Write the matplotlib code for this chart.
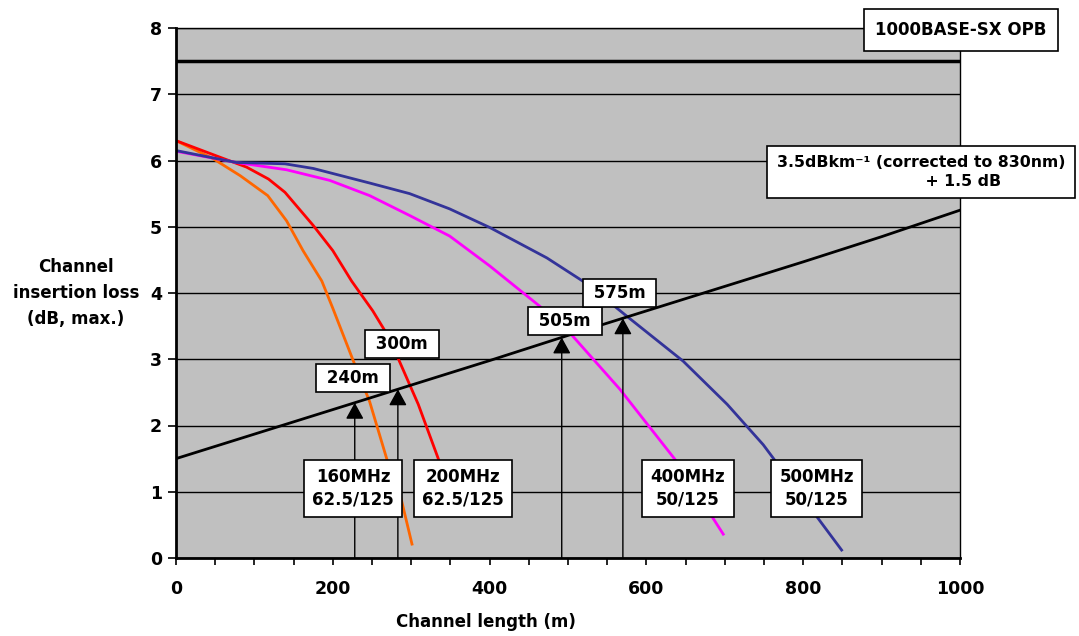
import numpy as np
import matplotlib
matplotlib.use('Agg')
import matplotlib.pyplot as plt
from matplotlib.ticker import MultipleLocator

plt.rcParams['font.family'] = ['DejaVu Sans']
plt.rcParams['font.weight'] = 'bold'

# straight-line loss budget: 3.5 dB/km + 1.5 dB
len_loss = [0, 100, 200, 300, 400, 500, 600, 700, 800, 900, 1000]
loss_line = [1.5, 1.87, 2.24, 2.61, 2.98, 3.36, 3.73, 4.1, 4.47, 4.85, 5.25]
opb = 7.5

# allowed channel loss curves
x_160 = [0, 47, 82, 117, 141, 162, 186, 200, 228, 247, 270, 286, 301]
y_160 = [6.30, 6.03, 5.77, 5.47, 5.09, 4.64, 4.18, 3.77, 2.92, 2.36, 1.45, 0.95, 0.21]
x_200 = [0, 56, 90, 118, 139, 175, 200, 224, 251, 268, 282, 309, 337, 345]
y_200 = [6.30, 6.05, 5.90, 5.72, 5.52, 5.02, 4.64, 4.18, 3.73, 3.40, 3.05, 2.32, 1.42, 1.00]
x_400 = [0, 77, 141, 196, 247, 298, 349, 400, 464, 506, 566, 639, 698]
y_400 = [6.14, 5.97, 5.86, 5.70, 5.47, 5.17, 4.86, 4.41, 3.80, 3.35, 2.55, 1.45, 0.36]
x_500 = [0, 77, 139, 175, 247, 298, 349, 400, 473, 524, 575, 647, 703, 749, 800, 849]
y_500 = [6.15, 5.97, 5.95, 5.88, 5.66, 5.50, 5.27, 4.99, 4.53, 4.14, 3.65, 2.97, 2.32, 1.71, 0.90, 0.12]

arrow_x = [228, 283, 492, 570]
reach_labels = ['240m', '300m', '505m', '575m']
curve_labels = ['160MHz\n62.5/125', '200MHz\n62.5/125', '400MHz\n50/125', '500MHz\n50/125']

fig = plt.figure(figsize=(10.79, 6.36), dpi=100)
ax = fig.add_axes([176/1079, 1-558/636, 784/1079, 530/636])
ax.set_facecolor('#C0C0C0')

ax.set_xlim(0, 1000)
ax.set_ylim(0, 8)
ax.xaxis.set_major_locator(MultipleLocator(200))
ax.xaxis.set_minor_locator(MultipleLocator(50))
ax.yaxis.set_major_locator(MultipleLocator(1))
ax.tick_params(axis='both', which='both', direction='out', labelsize=12.5, width=1.2)
ax.tick_params(axis='x', which='both', length=5, pad=11)
ax.tick_params(axis='y', length=6, pad=4)
ax.grid(axis='y', color='black', lw=1.0, zorder=1)
ax.set_axisbelow(True)
for s in ['top', 'right']:
    ax.spines[s].set_linewidth(1.0)
for s in ['left', 'bottom']:
    ax.spines[s].set_linewidth(2.0)

ax.axhline(opb, color='black', lw=2.5, zorder=3)
ax.plot(len_loss, loss_line, color='black', lw=2.0, zorder=3)
ax.plot(x_160, y_160, color='#FF6600', lw=2.0, zorder=2)
ax.plot(x_200, y_200, color='#FF0000', lw=2.0, zorder=2)
ax.plot(x_400, y_400, color='#FF00FF', lw=2.0, zorder=2)
ax.plot(x_500, y_500, color='#333399', lw=2.0, zorder=2)

# arrows up to the loss line
for xa in arrow_x:
    ya = np.interp(xa, len_loss, loss_line)
    ax.annotate('', xy=(xa, ya), xytext=(xa, 0),
                arrowprops=dict(arrowstyle='-|>,head_length=1.0,head_width=0.55',
                                color='black', lw=1.0, shrinkA=0, shrinkB=0),
                zorder=4)

box = dict(boxstyle='square,pad=0.3', facecolor='white', edgecolor='black', lw=1.2)
reach_pos = [(226, 2.71), (288, 3.23), (496, 3.58), (566, 4.0)]
for (xp, yp), t in zip(reach_pos, reach_labels):
    ax.text(xp, yp, ' ' + t + ' ', ha='center', va='center', fontsize=12,
            bbox=box, zorder=5)

curve_pos = [226, 366, 653, 817]
for xp, t in zip(curve_pos, curve_labels):
    ax.text(xp, 1.05, t, ha='center', va='center', fontsize=12, linespacing=1.35,
            multialignment='center', bbox=dict(boxstyle='square,pad=0.5',
            facecolor='white', edgecolor='black', lw=1.2), zorder=5)

fig.text(961/1079, 1-30/636, '1000BASE-SX OPB', ha='center', va='center',
         fontsize=12, bbox=dict(boxstyle='square,pad=0.7', facecolor='white',
         edgecolor='black', lw=1.2), zorder=6)
fig.text(921/1079, 1-172/636,
         '3.5dBkm\u207b\u00b9 (corrected to 830nm)\n                           + 1.5 dB',
         ha='center', va='center', fontsize=11.3, multialignment='left',
         linespacing=1.3, bbox=dict(boxstyle='square,pad=0.6', facecolor='white',
         edgecolor='black', lw=1.2), zorder=6)

fig.text(76/1079, 1-293/636, 'Channel\ninsertion loss\n(dB, max.)', ha='center',
         va='center', fontsize=12, linespacing=1.6, multialignment='center')
fig.text(486/1079, 1-622/636, 'Channel length (m)', ha='center', va='center',
         fontsize=12)

fig.savefig('out.png', dpi=100)
